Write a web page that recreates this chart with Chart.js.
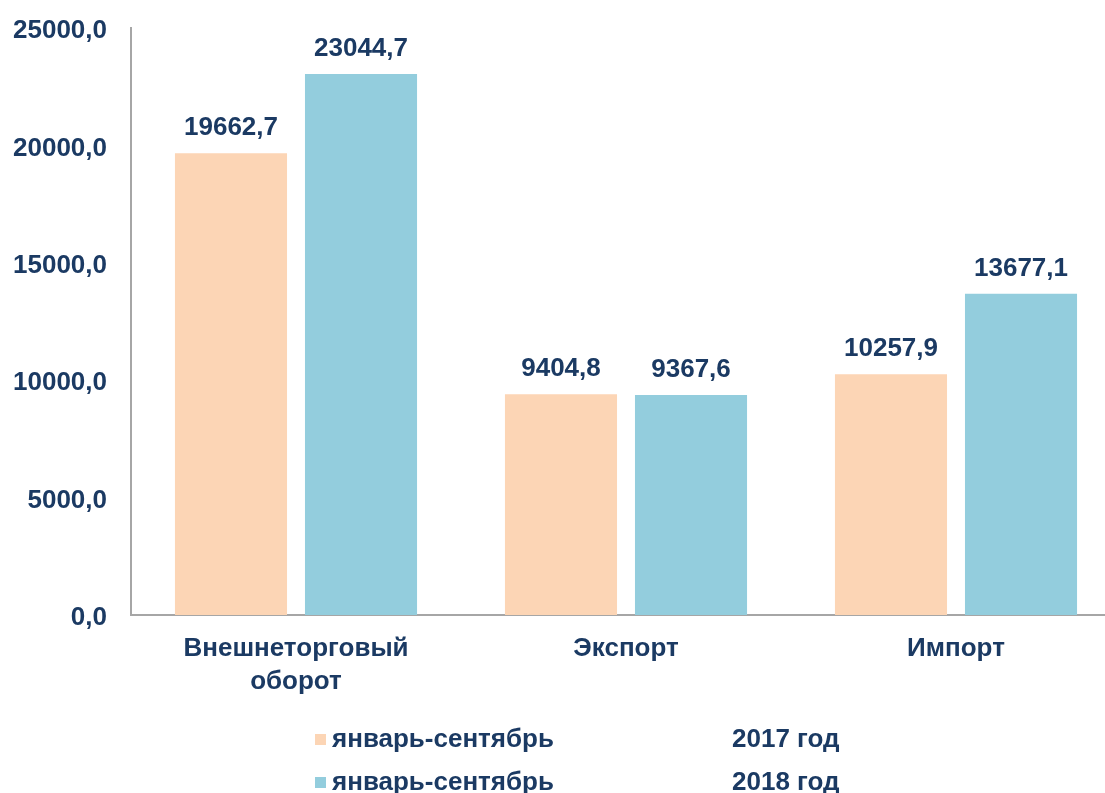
<!DOCTYPE html>
<html>
<head>
<meta charset="utf-8">
<script src="https://cdn.jsdelivr.net/npm/chart.js@4/dist/chart.umd.min.js"></script>
<style>
  html, body { margin: 0; padding: 0; background: #fff; overflow: hidden; }
  #wrap { width: 1125px; height: 793px; }
</style>
</head>
<body>
<div id="wrap"><canvas id="tradeChart"></canvas></div>
<script>
const categories = [['Внешнеторговый', 'оборот'], 'Экспорт', 'Импорт'];
const values2017 = [19662.7, 9404.8, 10257.9];
const values2018 = [23044.7, 9367.6, 13677.1];
const periodLabels = ['январь-сентябрь', 'январь-сентябрь'];
const yearLabels = ['2017 год', '2018 год'];
const yTicks = [0, 5000, 10000, 15000, 20000, 25000];

const navy = '#1b3a63';
const fontFamily = '"Liberation Sans", Arial, sans-serif';

function fmt(v) {
  return v.toFixed(1).replace('.', ',');
}

// value labels above every bar
const barLabels = {
  id: 'barLabels',
  afterDatasetsDraw(chart) {
    const ctx = chart.ctx;
    ctx.save();
    ctx.font = 'bold 26px ' + fontFamily;
    ctx.fillStyle = navy;
    ctx.textAlign = 'center';
    ctx.textBaseline = 'bottom';
    chart.data.datasets.forEach((ds, i) => {
      chart.getDatasetMeta(i).data.forEach((bar, j) => {
        ctx.fillText(fmt(ds.data[j]), bar.x, bar.y - 12);
      });
    });
    ctx.restore();
  }
};

// legend in two rows: square, period, year
const rowLegend = {
  id: 'rowLegend',
  afterDraw(chart) {
    const ctx = chart.ctx;
    ctx.save();
    ctx.font = 'bold 26px ' + fontFamily;
    ctx.textBaseline = 'middle';
    chart.data.datasets.forEach((ds, i) => {
      const y = 740 + i * 43;
      ctx.fillStyle = ds.backgroundColor;
      ctx.fillRect(315, y - 6, 11, 11);
      ctx.fillStyle = navy;
      ctx.textAlign = 'left';
      ctx.fillText(periodLabels[i], 332, y);
      ctx.fillText(yearLabels[i], 732, y);
    });
    ctx.restore();
  }
};

new Chart(document.getElementById('tradeChart').getContext('2d'), {
  type: 'bar',
  data: {
    labels: categories,
    datasets: [{
      label: periodLabels[0] + ' ' + yearLabels[0],
      data: values2017,
      backgroundColor: '#fcd5b5',
      categoryPercentage: 0.788,
      barPercentage: 0.862
    }, {
      label: periodLabels[1] + ' ' + yearLabels[1],
      data: values2018,
      backgroundColor: '#93cddd',
      categoryPercentage: 0.788,
      barPercentage: 0.862
    }]
  },
  options: {
    responsive: true,
    maintainAspectRatio: false,
    animation: false,
    layout: { padding: { top: 28, right: 4, bottom: 98, left: 0 } },
    plugins: {
      legend: { display: false },
      tooltip: { enabled: false }
    },
    scales: {
      x: {
        grid: { display: false, drawTicks: false },
        border: { display: true, color: '#a6a6a6', width: 2 },
        ticks: {
          color: navy,
          padding: 18,
          maxRotation: 0,
          autoSkip: false,
          font: { family: fontFamily, size: 26, weight: 'bold', lineHeight: 1.25 }
        },
        afterFit(scale) { scale.height = 80; }
      },
      y: {
        min: 0,
        max: 25000,
        afterBuildTicks(scale) { scale.ticks = yTicks.map(v => ({ value: v })); },
        grid: { display: false, drawTicks: false },
        border: { display: true, color: '#a6a6a6', width: 2 },
        ticks: {
          color: navy,
          padding: 24,
          labelOffset: 3,
          font: { family: fontFamily, size: 26, weight: 'bold' },
          callback: v => fmt(v)
        },
        afterFit(scale) {
          scale.width = 131;
          scale.paddingTop = 0;
          scale.paddingBottom = 0;
        }
      }
    }
  },
  plugins: [barLabels, rowLegend]
});
</script>
</body>
</html>
